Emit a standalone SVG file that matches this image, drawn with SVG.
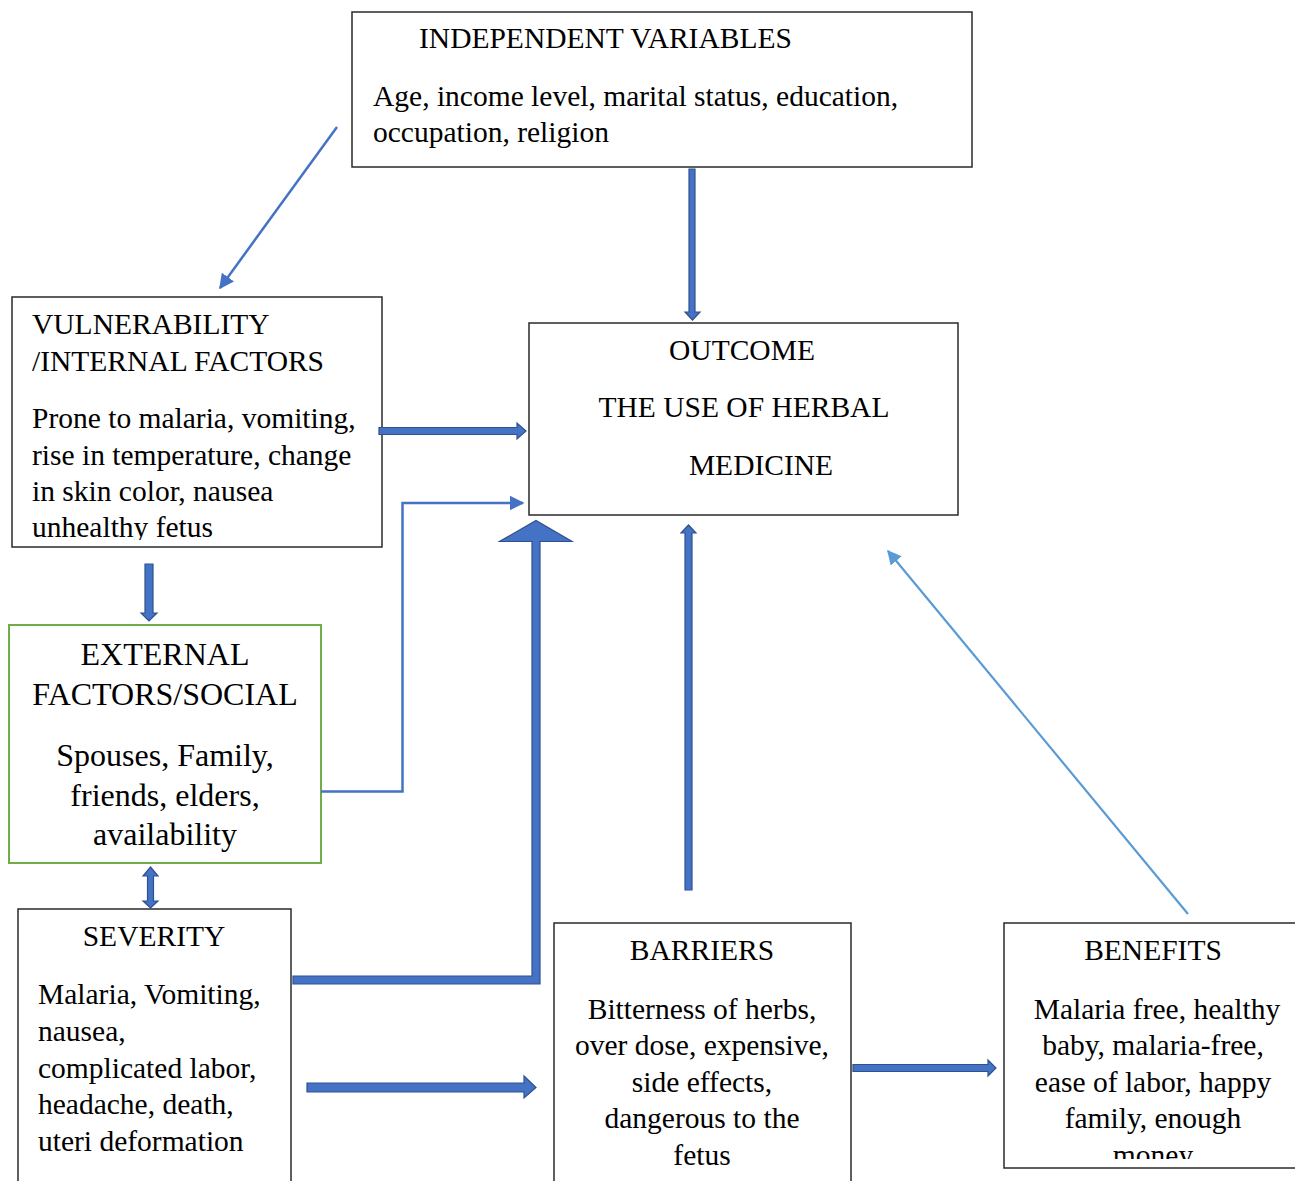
<svg xmlns="http://www.w3.org/2000/svg" width="1295" height="1181" viewBox="0 0 1295 1181">
<style>
  .box { fill: #ffffff; stroke: #2a2a2a; stroke-width: 1.5; }
  .gbox { fill: #ffffff; stroke: #70AD47; stroke-width: 2; }
  .t { font-family: "Liberation Serif", "Times New Roman", serif; font-size: 29.5px; fill: #000; }
  .tb { font-family: "Liberation Serif", "Times New Roman", serif; font-size: 32px; fill: #000; }
  .c { text-anchor: middle; }
  .block { fill: #4472C4; stroke: #2F528F; stroke-width: 1.2; stroke-linejoin: miter; }
  .thin { fill: none; stroke: #4472C4; stroke-width: 2.5; }
  .thin2 { fill: none; stroke: #5B9BD5; stroke-width: 2.2; }
</style>
<defs>
  <marker id="ah" viewBox="0 0 10 10" refX="9" refY="5" markerWidth="6" markerHeight="6" markerUnits="strokeWidth" orient="auto">
    <path d="M0,0 L10,5 L0,10 Z" fill="#4472C4"/>
  </marker>
  <marker id="ah2" viewBox="0 0 10 10" refX="9" refY="5" markerWidth="6.5" markerHeight="6.5" markerUnits="strokeWidth" orient="auto">
    <path d="M0,0 L10,5 L0,10 Z" fill="#5B9BD5"/>
  </marker>
  <clipPath id="clipVul"><rect x="12" y="297" width="370" height="243"/></clipPath>
  <clipPath id="clipBen"><rect x="1004" y="923" width="291" height="236"/></clipPath>
</defs>
<rect width="1295" height="1181" fill="#ffffff"/>

<g id="node-independent">
  <rect class="box" x="352" y="12" width="620" height="155"/>
  <text class="t" x="419" y="48">INDEPENDENT VARIABLES</text>
  <text class="t" x="373" y="106">Age, income level, marital status, education,</text>
  <text class="t" x="373" y="142">occupation, religion</text>
</g>

<g id="node-vulnerability">
  <rect class="box" x="12" y="297" width="370" height="250"/>
  <g clip-path="url(#clipVul)">
    <text class="t" x="32" y="334">VULNERABILITY</text>
    <text class="t" x="32" y="371">/INTERNAL FACTORS</text>
    <text class="t" x="32" y="428">Prone to malaria, vomiting,</text>
    <text class="t" x="32" y="465">rise in temperature, change</text>
    <text class="t" x="32" y="501">in skin color, nausea</text>
    <text class="t" x="32" y="537">unhealthy fetus</text>
  </g>
</g>

<g id="node-outcome">
  <rect class="box" x="529" y="323" width="429" height="192"/>
  <text class="t c" x="742" y="360">OUTCOME</text>
  <text class="t c" x="744" y="417">THE USE OF HERBAL</text>
  <text class="t c" x="761" y="475">MEDICINE</text>
</g>

<g id="node-external">
  <rect class="gbox" x="9" y="625" width="312" height="238"/>
  <text class="tb c" x="165" y="665">EXTERNAL</text>
  <text class="tb c" x="165" y="705">FACTORS/SOCIAL</text>
  <text class="tb c" x="165" y="766">Spouses, Family,</text>
  <text class="tb c" x="165" y="806">friends, elders,</text>
  <text class="tb c" x="165" y="845">availability</text>
</g>

<g id="node-severity">
  <rect class="box" x="18" y="909" width="273" height="280"/>
  <text class="t c" x="154" y="946">SEVERITY</text>
  <text class="t" x="38" y="1004">Malaria, Vomiting,</text>
  <text class="t" x="38" y="1041">nausea,</text>
  <text class="t" x="38" y="1078">complicated labor,</text>
  <text class="t" x="38" y="1114">headache, death,</text>
  <text class="t" x="38" y="1151">uteri deformation</text>
</g>

<g id="node-barriers">
  <rect class="box" x="554" y="923" width="297" height="266"/>
  <text class="t c" x="702" y="960">BARRIERS</text>
  <text class="t c" x="702" y="1019">Bitterness of herbs,</text>
  <text class="t c" x="702" y="1055">over dose, expensive,</text>
  <text class="t c" x="702" y="1092">side effects,</text>
  <text class="t c" x="702" y="1128">dangerous to the</text>
  <text class="t c" x="702" y="1165">fetus</text>
</g>

<g id="node-benefits">
  <rect class="box" x="1004" y="923" width="295" height="245"/>
  <g clip-path="url(#clipBen)">
    <text class="t c" x="1153" y="960">BENEFITS</text>
    <text class="t c" x="1157" y="1019">Malaria free, healthy</text>
    <text class="t c" x="1153" y="1055">baby, malaria-free,</text>
    <text class="t c" x="1153" y="1092">ease of labor, happy</text>
    <text class="t c" x="1153" y="1128">family, enough</text>
    <text class="t c" x="1153" y="1165">money</text>
  </g>
</g>

<g id="connectors">
  <line class="thin" x1="337" y1="127" x2="220" y2="288" marker-end="url(#ah)"/>
  <path class="block" d="M689,169 H695 V312 H700 L692.5,320 L685,312 H689 Z"/>
  <path class="block" d="M379,427.5 H517 V423 L526,431 L517,439 V434.5 H379 Z"/>
  <polyline class="thin" points="321,791.5 402.5,791.5 402.5,503 523,503" marker-end="url(#ah)"/>
  <path class="block" d="M293,976 H532 V541.5 H499.5 L536,520.5 L572,541.5 H540 V984 H293 Z"/>
  <path class="block" d="M685,890 V533 H681 L688.5,525 L696,533 H692 V890 Z"/>
  <line class="thin2" x1="1188" y1="914" x2="888" y2="551" marker-end="url(#ah2)"/>
  <path class="block" d="M145,564 H153 V613 H157 L149,621 L141,613 H145 Z"/>
  <path class="block" d="M150.5,867 L158,876 H153.5 V901 H158 L150.5,908 L143,901 H147.5 V876 H143 Z"/>
  <path class="block" d="M307,1083 H524 V1076 L536,1087.5 L524,1098 V1092 H307 Z"/>
  <path class="block" d="M853,1064.5 H988 V1060 L996,1068 L988,1076 V1071.5 H853 Z"/>
</g>
</svg>
